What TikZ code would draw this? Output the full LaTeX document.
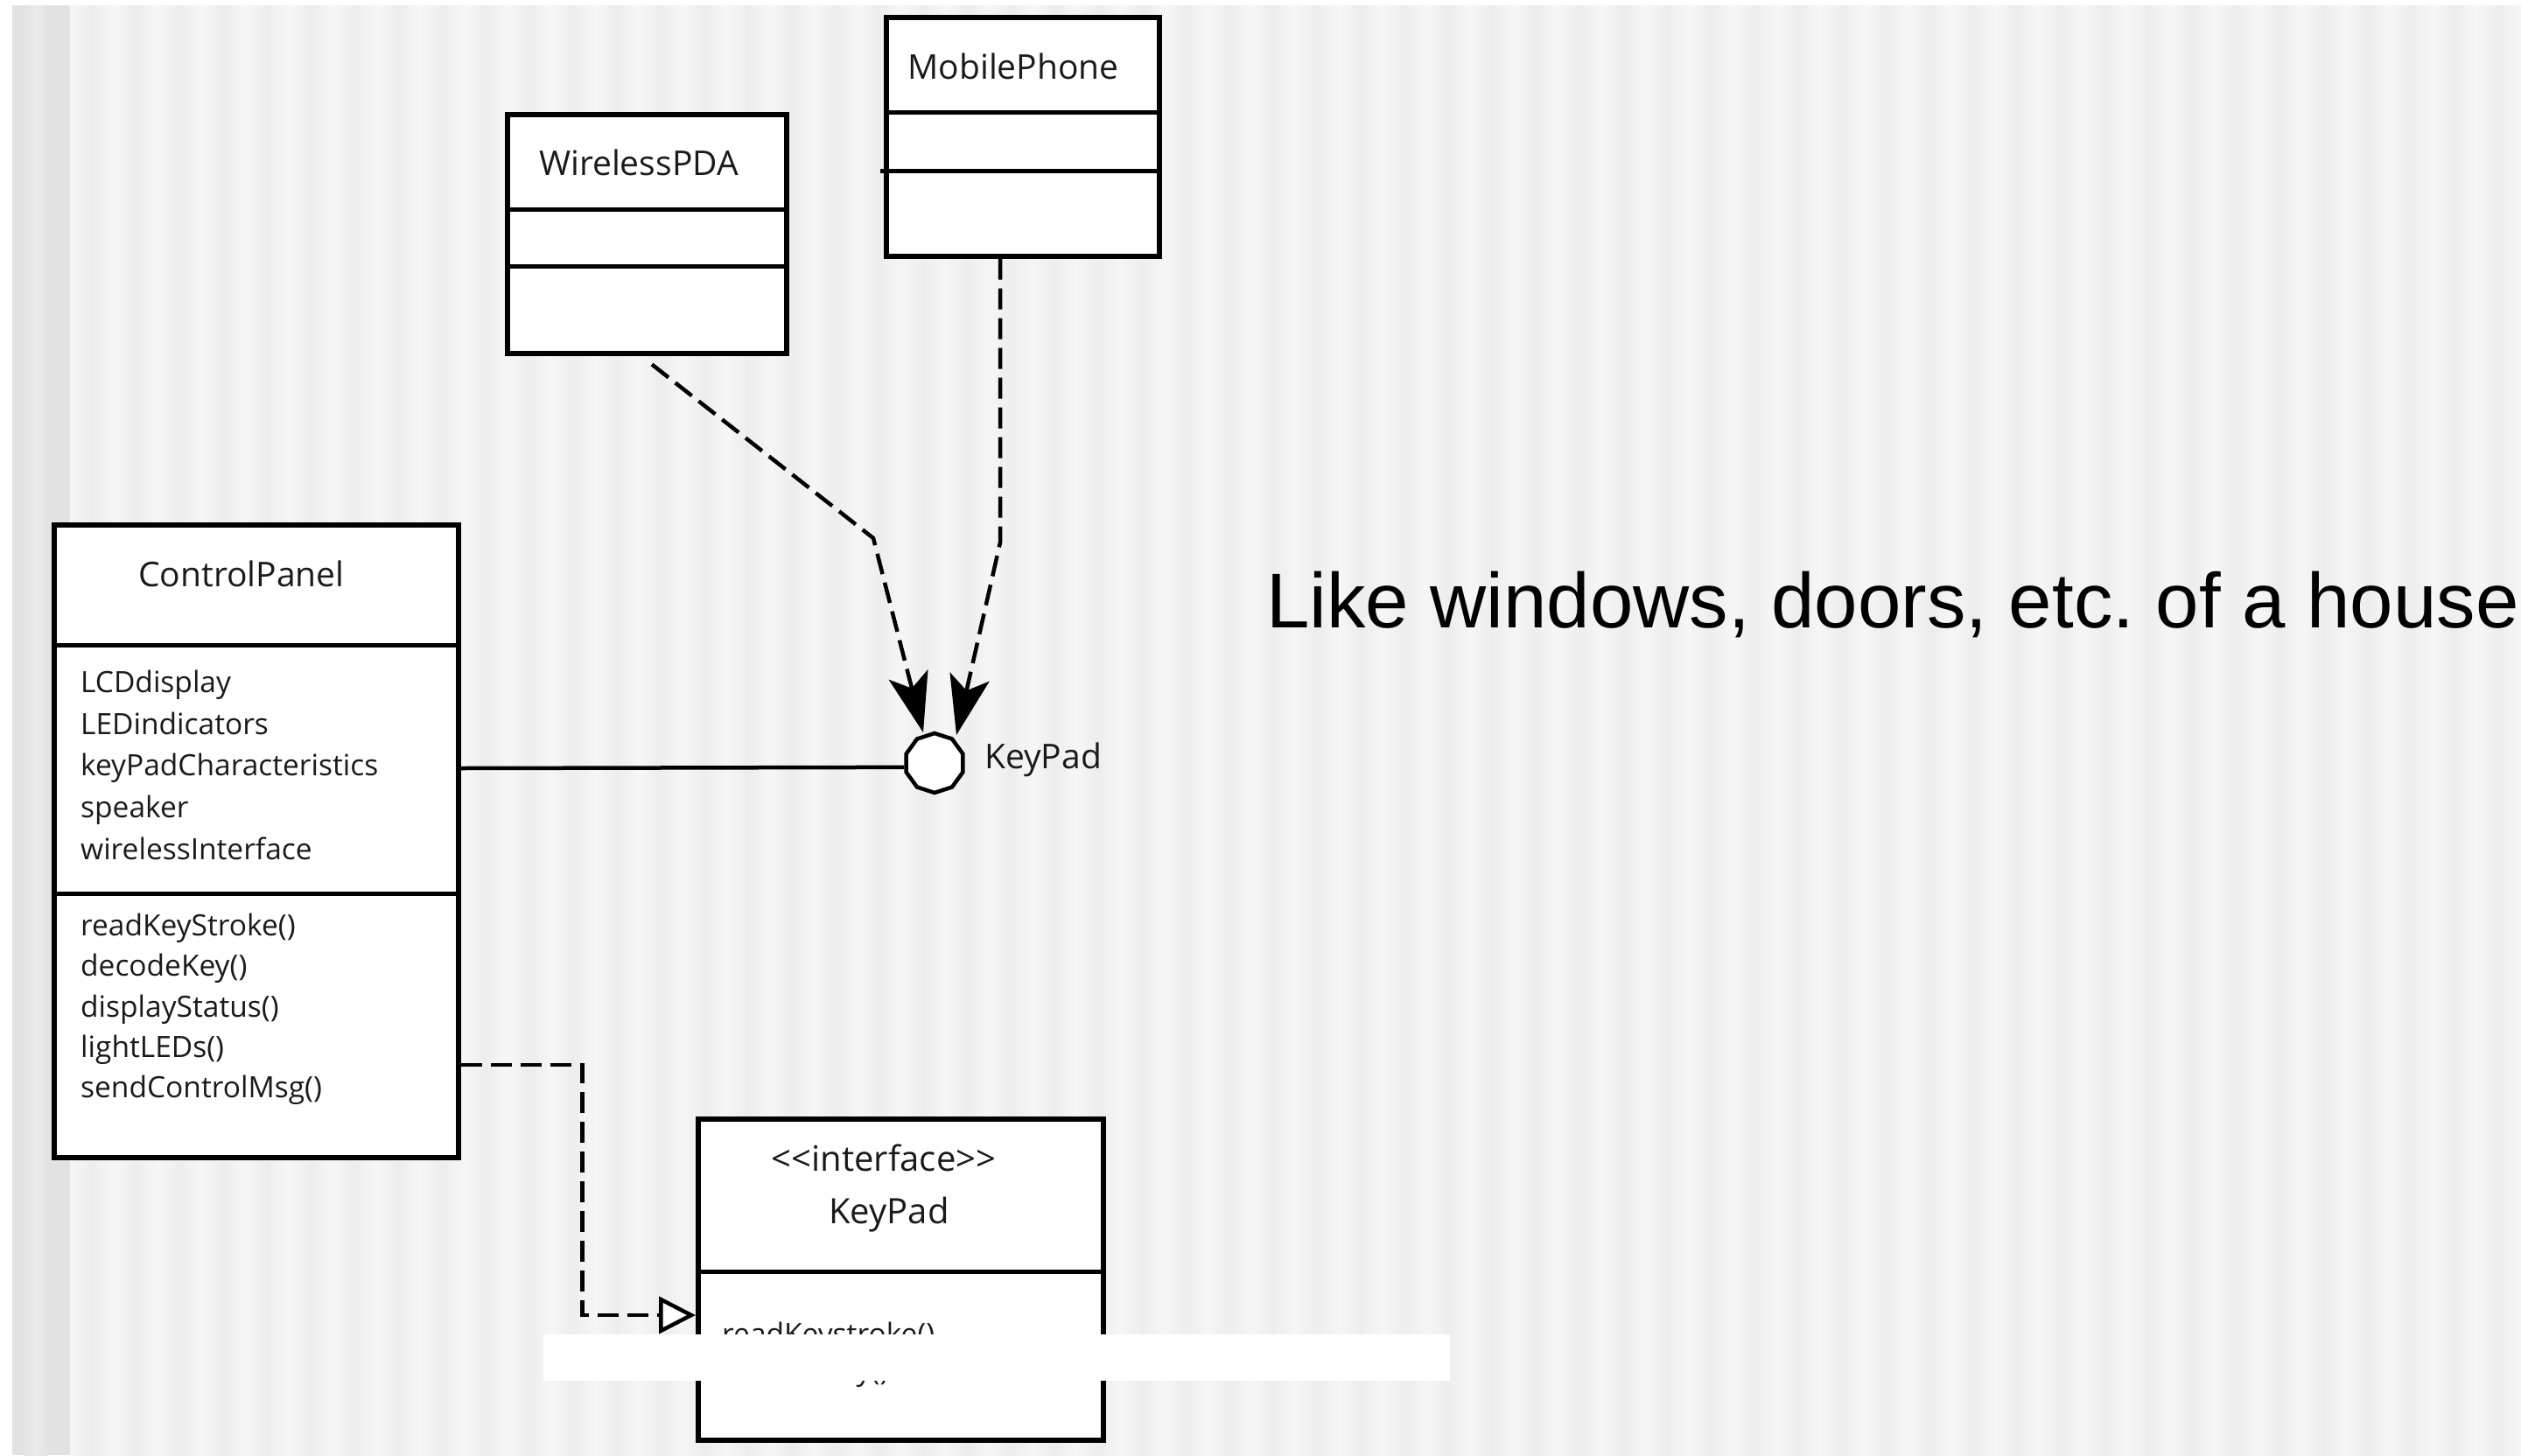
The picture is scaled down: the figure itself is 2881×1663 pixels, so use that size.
\documentclass[tikz,border=0pt]{standalone}
\usepackage{fontspec}
\newfontfamily\umlfont{Open Sans}
\newfontfamily\bigfont{Liberation Sans}
\usetikzlibrary{arrows.meta,shapes.geometric,calc}
\definecolor{bgA}{HTML}{F6F6F6}
\definecolor{bgB}{HTML}{EDEDED}
\definecolor{bandD}{HTML}{E2E2E2}
\definecolor{bandL}{HTML}{ECECEC}
\definecolor{txt}{HTML}{1A1A1A}
\tikzset{
  umlbox/.style={draw=black, line width=5.5pt, fill=white, inner sep=0pt, anchor=north west},
  sepline/.style={line width=5pt},
  uname/.style={font=\umlfont\fontsize{39}{47}\selectfont, text=txt, anchor=base, inner sep=0pt},
  umem/.style={font=\umlfont\fontsize{33.5}{40}\selectfont, text=txt, anchor=base west, inner sep=0pt},
  dep/.style={line width=4.5pt, dash pattern=on 24pt off 10pt},
  solidline/.style={line width=4.5pt},
  lolli/.style={regular polygon, regular polygon sides=10, shape border rotate=18, minimum size=68pt, inner sep=0pt, draw=black, fill=white, line width=4.5pt},
  bighead/.style={-{Stealth[length=68pt,width=46pt,inset=16pt]}},
  openhead/.style={-{Triangle[length=42pt,width=42pt,fill=white]}}
}
\begin{document}
\begin{tikzpicture}[x=1pt,y=-1pt]
\useasboundingbox (0,0) rectangle (2881,1663);
% background
\fill[white] (0,0) rectangle (2881,1663);
\fill[bgA] (14,6) rectangle (2881,1663);
\fill[bandD] (14,6) rectangle (80,1663);
\shade[left color=bandD, right color=bandL] (28,6) rectangle (41,1663);
\shade[left color=bandL, right color=bandD] (41,6) rectangle (54,1663);
\foreach \i in {0,...,55} {
  \shade[left color=bgA, right color=bgB] (80+50*\i,6) rectangle (105+50*\i,1663);
  \shade[left color=bgB, right color=bgA] (105+50*\i,6) rectangle (130+50*\i,1663);
}

% WirelessPDA
\node[umlbox, minimum width=319pt, minimum height=273pt] (pda) at (577,128) {};
\draw[sepline] ($(pda.north west)+(0,111)$) -- ($(pda.north east)+(0,111)$);
\draw[sepline] ($(pda.north west)+(0,176)$) -- ($(pda.north east)+(0,176)$);
\node[uname] (pdaname) at (730,200) {WirelessPDA};

% MobilePhone
\node[umlbox, minimum width=312pt, minimum height=273pt] (phone) at (1010,17) {};
\draw[sepline] ($(phone.north west)+(0,111)$) -- ($(phone.north east)+(0,111)$);
\draw[sepline] ($(phone.north west)+(-4,178)$) -- ($(phone.north east)+(0,178)$);
\node[uname] (phonename) at (1158,90) {MobilePhone};

% ControlPanel
\node[umlbox, minimum width=462pt, minimum height=723pt] (cp) at (59,597) {};
\draw[sepline] ($(cp.north west)+(0,140)$) -- ($(cp.north east)+(0,140)$);
\draw[sepline] ($(cp.north west)+(0,424)$) -- ($(cp.north east)+(0,424)$);
\node[uname] (cpname) at (276,670) {ControlPanel};
\node[umem] (a1) at (92,791) {LCDdisplay};
\node[umem] (a2) at (92,839) {LEDindicators};
\node[umem] (a3) at (92,886) {keyPadCharacteristics};
\node[umem] (a4) at (92,934) {speaker};
\node[umem] (a5) at (92,982) {wirelessInterface};
\node[umem] (m1) at (92,1069) {readKeyStroke()};
\node[umem] (m2) at (92,1115) {decodeKey()};
\node[umem] (m3) at (92,1162) {displayStatus()};
\node[umem] (m4) at (92,1208) {lightLEDs()};
\node[umem] (m5) at (92,1254) {sendControlMsg()};

% interface KeyPad
\node[umlbox, minimum width=463pt, minimum height=367pt] (ikp) at (795,1276) {};
\draw[sepline] ($(ikp.north west)+(0,177)$) -- ($(ikp.north east)+(0,177)$);
\node[uname, font=\umlfont\fontsize{40}{48}\selectfont] (stereo) at (1010,1338) {<{}<interface>{}>};
\node[uname, font=\umlfont\fontsize{40}{48}\selectfont] (ikpname) at (1016,1398) {KeyPad};
\node[umem] (im1) at (825,1536) {readKeystroke()};
\node[umem] (im2) at (825,1577) {decodeKey()};

% lollipop
\node[lolli] (kp) at (1068,872) {};
\node[uname, anchor=base west] (kplabel) at (1125,878) {KeyPad};
\draw[solidline] ($(cp.north east)+(0,281)$) -- (kp.188);

% dependencies
\coordinate (b1) at (998,615);
\coordinate (b2) at (1143,620);
\draw[dep, bighead] ($(pda.south west)+(168,10)$) -- (b1) -- ($(kp.center)+(-13,-35)$);
\draw[dep, bighead] ($(phone.south west)+(133,0)$) -- (b2) -- ($(kp.center)+(25,-32)$);
\draw[dep, openhead] ($(cp.north east)+(0,620)$) -- ++(139,0) |- ($(ikp.north west)+(0,227)$);

% note text
\node[anchor=base west, inner sep=0pt, font=\bigfont\fontsize{88.8}{100}\selectfont] (note) at (1447,717) {\frenchspacing Like windows, doors, etc. of a house};

% white patch over the interface box
\fill[white] (621,1525) rectangle (1657,1578);
\end{tikzpicture}
\end{document}
